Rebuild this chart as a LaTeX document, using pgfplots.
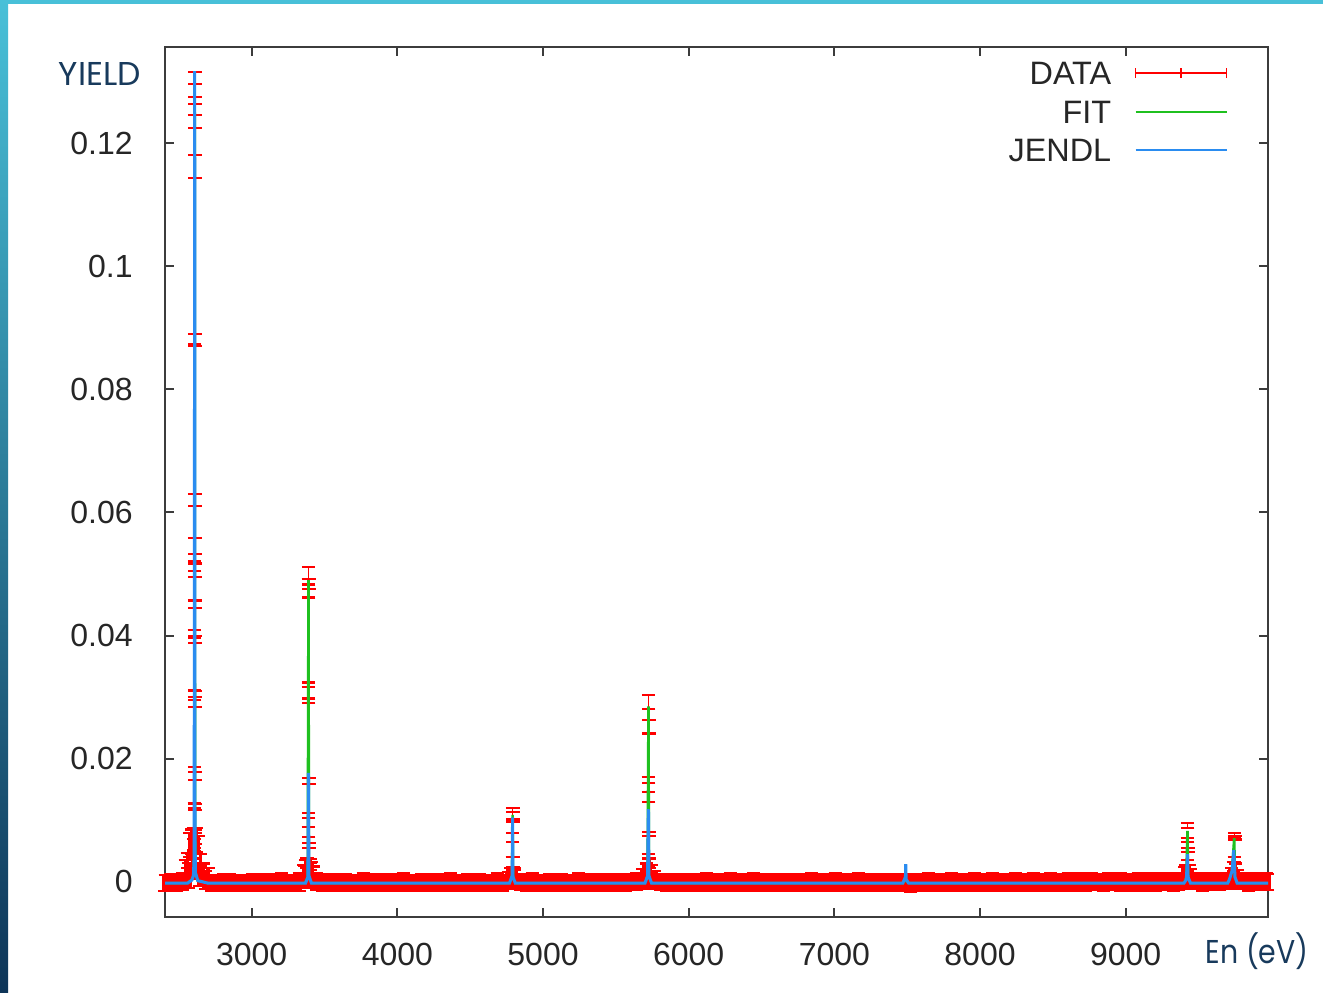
\documentclass[border=0pt]{standalone}
\usepackage{fontspec}
\setmainfont{Liberation Sans}
\newfontfamily\titlefont{Poppins}
\newfontfamily\titlefontn[FakeStretch=0.86]{Poppins}
\usepackage{pgfplots}
\pgfplotsset{compat=1.18}
\definecolor{navy}{HTML}{183A5C}
\definecolor{datared}{HTML}{FF0000}
\definecolor{fitgreen}{HTML}{1FC01F}
\definecolor{jblue}{HTML}{2A8CF0}
\definecolor{axgray}{HTML}{3C3C3C}
\definecolor{barcyan}{HTML}{48C0D8}
\definecolor{barmid}{HTML}{2A86B0}
\definecolor{bardark}{HTML}{0E3558}

\pgfplotstableread[row sep=\\]{
x y e\\
2405 -0.0001 0.0013\\ 2445 0.0000 0.0013\\ 2485 -0.0001 0.0014\\ 2525 0.0001 0.0014\\ 2565 0.0010 0.0020\\
2605 0.0030 0.0025\\ 2645 0.0012 0.0018\\ 2685 0.0003 0.0014\\ 2725 -0.0001 0.0013\\ 2765 -0.0001 0.0013\\
2805 0.0000 0.0013\\ 2845 -0.0001 0.0014\\ 2885 -0.0001 0.0013\\ 2925 -0.0002 0.0013\\ 2965 -0.0001 0.0013\\
3005 0.0000 0.0013\\ 3045 -0.0001 0.0013\\ 3085 -0.0001 0.0014\\ 3125 0.0000 0.0013\\ 3165 -0.0001 0.0013\\
3205 0.0000 0.0015\\ 3245 -0.0001 0.0013\\ 3285 -0.0001 0.0013\\ 3325 0.0000 0.0014\\ 3365 0.0008 0.0018\\
3405 0.0010 0.0020\\ 3445 0.0001 0.0014\\ 3485 -0.0001 0.0013\\ 3525 0.0000 0.0013\\ 3565 -0.0001 0.0014\\
3605 -0.0001 0.0013\\ 3645 0.0000 0.0013\\ 3685 -0.0001 0.0013\\ 3725 -0.0002 0.0013\\ 3765 0.0000 0.0014\\
3805 -0.0001 0.0013\\ 3845 0.0000 0.0013\\ 3885 -0.0001 0.0014\\ 3925 -0.0001 0.0013\\ 3965 0.0000 0.0013\\
4005 -0.0001 0.0013\\ 4045 0.0000 0.0014\\ 4085 -0.0001 0.0013\\ 4125 -0.0001 0.0013\\ 4165 0.0000 0.0013\\
4205 -0.0001 0.0014\\ 4245 -0.0001 0.0013\\ 4285 0.0000 0.0013\\ 4325 -0.0001 0.0013\\ 4365 0.0000 0.0014\\
4405 -0.0001 0.0013\\ 4445 -0.0002 0.0013\\ 4485 0.0000 0.0013\\ 4525 -0.0001 0.0014\\ 4565 0.0000 0.0013\\
4605 -0.0001 0.0013\\ 4645 -0.0001 0.0013\\ 4685 0.0000 0.0014\\ 4725 -0.0001 0.0013\\ 4765 0.0002 0.0014\\
4805 0.0004 0.0015\\ 4845 0.0000 0.0013\\ 4885 -0.0001 0.0013\\ 4925 0.0000 0.0014\\ 4965 -0.0001 0.0013\\
5005 -0.0001 0.0013\\ 5045 0.0000 0.0013\\ 5085 -0.0001 0.0014\\ 5125 0.0000 0.0013\\ 5165 -0.0001 0.0013\\
5205 -0.0002 0.0013\\ 5245 0.0000 0.0014\\ 5285 -0.0001 0.0013\\ 5325 0.0000 0.0013\\ 5365 -0.0001 0.0013\\
5405 -0.0001 0.0014\\ 5445 0.0000 0.0013\\ 5485 -0.0001 0.0013\\ 5525 0.0000 0.0013\\ 5565 -0.0001 0.0014\\
5605 0.0000 0.0013\\ 5645 0.0001 0.0014\\ 5685 0.0005 0.0016\\ 5725 0.0010 0.0018\\ 5765 0.0003 0.0015\\
5805 0.0000 0.0013\\ 5845 -0.0001 0.0014\\ 5885 0.0000 0.0013\\ 5925 -0.0001 0.0013\\ 5965 0.0000 0.0013\\
6005 -0.0001 0.0014\\ 6045 0.0000 0.0013\\ 6085 -0.0001 0.0013\\ 6125 0.0000 0.0014\\ 6165 -0.0001 0.0013\\
6205 0.0000 0.0013\\ 6245 -0.0001 0.0013\\ 6285 0.0000 0.0014\\ 6325 -0.0001 0.0013\\ 6365 0.0000 0.0013\\
6405 -0.0001 0.0013\\ 6445 0.0000 0.0014\\ 6485 -0.0001 0.0013\\ 6525 0.0000 0.0013\\ 6565 -0.0001 0.0014\\
6605 0.0000 0.0013\\ 6645 -0.0001 0.0013\\ 6685 0.0000 0.0013\\ 6725 -0.0001 0.0014\\ 6765 0.0000 0.0013\\
6805 -0.0001 0.0013\\ 6845 0.0000 0.0014\\ 6885 -0.0001 0.0013\\ 6925 0.0000 0.0013\\ 6965 -0.0001 0.0013\\
7005 0.0000 0.0014\\ 7045 -0.0001 0.0013\\ 7085 0.0000 0.0013\\ 7125 -0.0001 0.0013\\ 7165 0.0000 0.0014\\
7205 -0.0001 0.0013\\ 7245 0.0000 0.0013\\ 7285 -0.0001 0.0014\\ 7325 0.0000 0.0013\\ 7365 -0.0001 0.0013\\
7405 0.0000 0.0013\\ 7445 -0.0001 0.0014\\ 7485 0.0000 0.0013\\ 7525 -0.0002 0.0014\\ 7565 0.0000 0.0013\\
7605 -0.0001 0.0013\\ 7645 0.0000 0.0014\\ 7685 -0.0001 0.0013\\ 7725 0.0000 0.0013\\ 7765 -0.0001 0.0013\\
7805 0.0000 0.0014\\ 7845 -0.0001 0.0013\\ 7885 0.0000 0.0013\\ 7925 -0.0001 0.0013\\ 7965 0.0000 0.0014\\
8005 0.0000 0.0013\\ 8045 -0.0001 0.0013\\ 8085 0.0000 0.0014\\ 8125 0.0000 0.0013\\ 8165 -0.0001 0.0013\\
8205 0.0000 0.0013\\ 8245 0.0000 0.0014\\ 8285 -0.0001 0.0013\\ 8325 0.0000 0.0013\\ 8365 0.0000 0.0014\\
8405 -0.0001 0.0013\\ 8445 0.0000 0.0013\\ 8485 0.0000 0.0014\\ 8525 -0.0001 0.0013\\ 8565 0.0000 0.0013\\
8605 0.0000 0.0014\\ 8645 0.0001 0.0013\\ 8685 -0.0001 0.0013\\ 8725 0.0000 0.0014\\ 8765 0.0001 0.0013\\
8805 0.0000 0.0013\\ 8845 -0.0001 0.0014\\ 8885 0.0001 0.0013\\ 8925 0.0000 0.0013\\ 8965 0.0000 0.0014\\
9005 -0.0001 0.0013\\ 9045 0.0000 0.0013\\ 9085 0.0000 0.0014\\ 9125 0.0001 0.0013\\ 9165 -0.0001 0.0013\\
9205 0.0000 0.0014\\ 9245 0.0000 0.0013\\ 9285 0.0001 0.0013\\ 9325 0.0000 0.0014\\ 9365 0.0001 0.0014\\
9405 0.0007 0.0017\\ 9445 0.0005 0.0016\\ 9485 0.0001 0.0013\\ 9525 0.0000 0.0014\\ 9565 0.0001 0.0013\\
9605 0.0000 0.0013\\ 9645 0.0001 0.0014\\ 9685 0.0001 0.0013\\ 9725 0.0006 0.0017\\ 9765 0.0004 0.0015\\
9805 0.0001 0.0013\\ 9845 0.0000 0.0014\\ 9885 0.0001 0.0013\\ 9925 0.0000 0.0013\\ 9965 0.0001 0.0014\\
9975 0.0000 0.0013\\
}\basetab

\pgfplotstableread[row sep=\\]{
x y e\\
2609 0.1295 0.0020\\ 2610 0.1280 0.0016\\ 2609 0.1235 0.0011\\ 2610 0.1162 0.0019\\
2608 0.0882 0.0008\\ 2610 0.0880 0.0010\\ 2609 0.0620 0.0010\\ 2609 0.0545 0.0013\\
2608 0.0513 0.0008\\ 2610 0.0506 0.0011\\ 2609 0.0451 0.0006\\ 2607 0.0403 0.0006\\
2611 0.0394 0.0006\\ 2608 0.0303 0.0008\\ 2610 0.0297 0.0013\\ 2609 0.0292 0.0008\\
2608 0.0176 0.0011\\ 2610 0.0172 0.0007\\ 2607 0.0124 0.0004\\ 2611 0.0122 0.0005\\
2609 0.0082 0.0003\\ 2606 0.0060 0.0010\\ 2612 0.0050 0.0012\\
3391 0.0497 0.0014\\ 3392 0.0484 0.0008\\ 3390 0.0477 0.0015\\ 3391 0.0311 0.0013\\
3390 0.0303 0.0013\\ 3392 0.0164 0.0005\\ 3391 0.0108 0.0004\\ 3390 0.0081 0.0008\\
3392 0.0059 0.0004\\
4792 0.0109 0.0011\\ 4793 0.0108 0.0006\\ 4791 0.0072 0.0007\\
5725 0.0292 0.0011\\ 5726 0.0252 0.0011\\ 5724 0.0166 0.0005\\ 5725 0.0138 0.0008\\
5726 0.0078 0.0003\\
9425 0.0092 0.0004\\ 9424 0.0068 0.0003\\ 9426 0.0052 0.0003\\
9748 0.0075 0.0004\\ 9749 0.0072 0.0003\\
}\peaktab

\pgfplotstableread[row sep=\\]{
x y e\\
2575 0.0060 0.0020\\ 2590 0.0065 0.0020\\ 2600 0.0070 0.0018\\ 2620 0.0068 0.0020\\
2635 0.0060 0.0015\\ 2650 0.0035 0.0010\\ 2670 0.0020 0.0010\\ 2700 0.0015 0.0008\\
2560 0.0035 0.0012\\ 2545 0.0025 0.0010\\
3380 0.0030 0.0008\\ 3400 0.0028 0.0009\\ 3370 0.0025 0.0010\\ 3410 0.0022 0.0010\\
3360 0.0018 0.0010\\ 3420 0.0015 0.0010\\
4792 0.0032 0.0008\\ 4790 0.0030 0.0010\\ 4780 0.0015 0.0008\\ 4805 0.0015 0.0008\\
5723 0.0035 0.0010\\ 5727 0.0030 0.0008\\ 5710 0.0020 0.0010\\ 5740 0.0018 0.0010\\
9425 0.0032 0.0004\\ 9415 0.0020 0.0008\\ 9435 0.0020 0.0008\\
9747 0.0036 0.0004\\ 9740 0.0025 0.0008\\ 9755 0.0022 0.0008\\
}\basepeaktab

\pgfplotstableread[row sep=\\]{
x y\\
2405 -0.0002\\ 2560 -0.0002\\ 2590 0.0004\\ 2603 0.0012\\ 2607 0.0080\\ 2609 0.1250\\
2611 0.0090\\ 2615 0.0015\\ 2630 0.0002\\ 2700 -0.0002\\
3365 -0.0002\\ 3385 0.0008\\ 3390 0.0490\\ 3393 0.0010\\ 3412 -0.0002\\
4770 -0.0002\\ 4788 0.0010\\ 4791 0.0109\\ 4794 0.0008\\ 4810 -0.0002\\
5700 -0.0002\\ 5718 0.0010\\ 5724 0.0285\\ 5727 0.0010\\ 5745 -0.0002\\
7470 -0.0002\\ 7488 0.0004\\ 7490 0.0008\\ 7493 0.0002\\ 7510 -0.0002\\
9400 -0.0002\\ 9416 0.0006\\ 9424 0.0083\\ 9428 0.0008\\ 9445 -0.0002\\
9700 -0.0002\\ 9714 0.0005\\ 9730 0.0018\\ 9745 0.0071\\ 9750 0.0008\\ 9765 -0.0002\\
9977 -0.0002\\
}\fittab

\pgfplotstableread[row sep=\\]{
x y\\
2405 -0.0002\\ 2560 -0.0002\\ 2590 0.0003\\ 2600 0.0010\\ 2605 0.0040\\ 2607 0.0580\\
2609 0.1317\\ 2611 0.0080\\ 2614 0.0015\\ 2630 0.0002\\ 2700 -0.0002\\
3370 -0.0002\\ 3386 0.0008\\ 3390 0.0177\\ 3393 0.0010\\ 3410 -0.0002\\
4770 -0.0002\\ 4788 0.0010\\ 4791 0.0105\\ 4794 0.0008\\ 4810 -0.0002\\
5700 -0.0002\\ 5718 0.0010\\ 5722 0.0100\\ 5724 0.0118\\ 5727 0.0010\\ 5745 -0.0002\\
7470 -0.0002\\ 7488 0.0008\\ 7490 0.0029\\ 7493 0.0004\\ 7510 -0.0002\\
9400 -0.0002\\ 9414 0.0003\\ 9418 0.0010\\ 9424 0.0045\\ 9428 0.0008\\ 9445 -0.0002\\
9700 -0.0002\\ 9712 0.0004\\ 9730 0.0018\\ 9742 0.0052\\ 9750 0.0008\\ 9765 -0.0002\\
9977 -0.0002\\
}\jendltab

\begin{document}
\begin{tikzpicture}
\fill[white] (0,0) rectangle (661.5pt,-496pt);
\shade[top color=barcyan, middle color=barmid, bottom color=bardark] (0,0) rectangle (4pt,-496pt);
\fill[barcyan] (0,0) rectangle (661.5pt,-2pt);

\begin{axis}[
  at={(82.5pt,-458.5pt)}, anchor=south west,
  scale only axis, width=551.5pt, height=435pt,
  xmin=2405, xmax=9977, ymin=-0.0057, ymax=0.1356,
  clip=false,
  axis line style={axgray, line width=1.1pt},
  xtick={3000,4000,5000,6000,7000,8000,9000},
  xticklabels={3000,4000,5000,6000,7000,8000,9000},
  ytick={0,0.02,0.04,0.06,0.08,0.1,0.12},
  yticklabels={0,0.02,0.04,0.06,0.08,0.1,0.12},
  tick align=inside, major tick length=4.5pt,
  tick style={axgray, line width=1pt},
  tick label style={font=\fontsize{16}{18}\selectfont, text=black!85},
  xticklabel style={inner sep=0pt, anchor=north, yshift=-13pt},
  yticklabel style={inner sep=0pt, anchor=east, xshift=-16pt},
  legend style={at={(1,1)}, anchor=north east, xshift=-20pt, yshift=-7.3pt,
    draw=none, fill=none, inner sep=0pt, outer sep=0pt,
    row sep=7.6pt, column sep=11.5pt,
    font=\fontsize{16.2}{18}\selectfont,
    nodes={inner sep=0pt, text height=11.6pt, text depth=0pt, anchor=base east, text=black!85}},
  legend cell align=right, legend plot pos=right,
]
% dense background data points (merged error bars)
\addplot[forget plot, draw=none, mark=none,
  error bars/.cd, y dir=both, y explicit,
  error bar style={draw=datared, line width=3.3pt},
  error mark options={rotate=90, draw=datared, line width=1pt, mark size=3.25pt}]
  table[x=x, y=y, y error=e] {\basetab};
% data points at the foot of each resonance
\addplot[forget plot, draw=none, mark=none,
  error bars/.cd, y dir=both, y explicit,
  error bar style={draw=datared, line width=1.6pt},
  error mark options={rotate=90, draw=datared, line width=1.1pt, mark size=3.4pt}]
  table[x=x, y=y, y error=e] {\basepeaktab};
% resonance data points
\addplot[draw=none, mark=none,
  legend image code/.code={\draw[datared, line width=0.8pt, yshift=5.8pt] (0pt,0pt)--(45.5pt,0pt) (0pt,-2.5pt)--(0pt,2.5pt) (22.75pt,-2.5pt)--(22.75pt,2.5pt) (45.5pt,-2.5pt)--(45.5pt,2.5pt);},
  error bars/.cd, y dir=both, y explicit,
  error bar style={draw=datared, line width=0.6pt},
  error mark options={rotate=90, draw=datared, line width=1.1pt, mark size=3.4pt}]
  table[x=x, y=y, y error=e] {\peaktab};
\addlegendentry{DATA}
\addplot[fitgreen, line width=1.3pt, mark=none,
  legend image code/.code={\draw[fitgreen, line width=1pt, yshift=5.8pt] (0pt,0pt)--(45.5pt,0pt);}]
  table[x=x, y=y] {\fittab};
\addlegendentry{FIT}
\addplot[jblue, line width=1.5pt, mark=none,
  legend image code/.code={\draw[jblue, line width=1.4pt, yshift=5.8pt] (0pt,0pt)--(45.5pt,0pt);}]
  table[x=x, y=y] {\jendltab};
\addlegendentry{JENDL}
\end{axis}

\node[anchor=base west, inner sep=0pt, text=navy, font=\titlefont\fontsize{16.5}{16.5}\selectfont] at (29.2pt,-42.5pt) {YIELD};
\node[anchor=base east, inner sep=0pt, text=navy, font=\titlefontn\fontsize{16.5}{16.5}\selectfont] at (654.5pt,-481.7pt) {En (eV)};

\pgfresetboundingbox
\useasboundingbox (0,0) rectangle (661.5pt,-496pt);
\end{tikzpicture}
\end{document}
